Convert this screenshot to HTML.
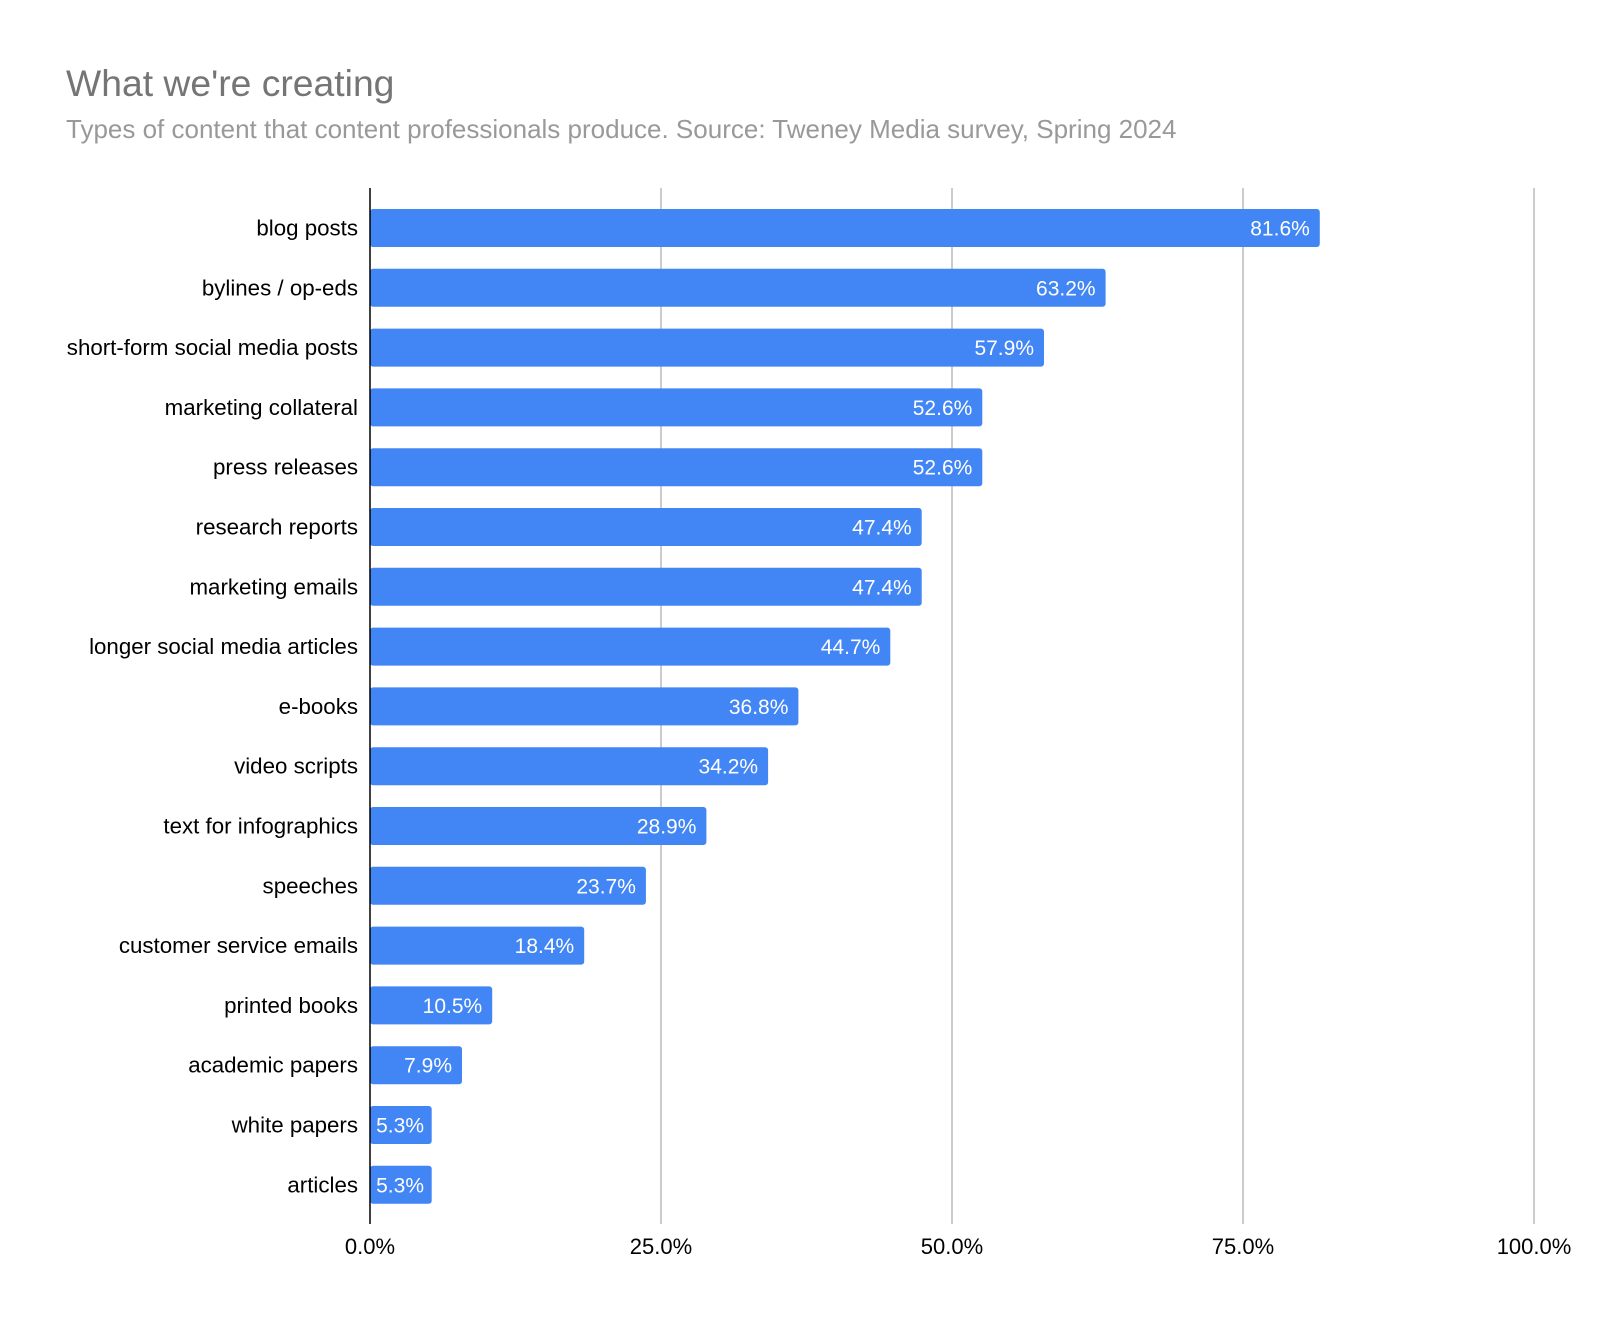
<!DOCTYPE html>
<html><head><meta charset="utf-8"><style>
body{margin:0;background:#fff;width:1600px;height:1324px;overflow:hidden}
svg text{font-family:"Liberation Sans",sans-serif}
.v{font-family:"Liberation Sans",sans-serif;fill:#fff;font-size:21px;text-anchor:end}
.c{font-size:22.3px;text-anchor:end;fill:#000}
</style></head><body>
<svg width="1600" height="1324" xmlns="http://www.w3.org/2000/svg">
<text x="66" y="96" font-size="37.3" fill="#757575">What we're creating</text>
<text x="66" y="138" font-size="26" fill="#999">Types of content that content professionals produce. Source: Tweney Media survey, Spring 2024</text>
<g stroke="#ccc" stroke-width="2">
<line x1="661" y1="188" x2="661" y2="1224"/>
<line x1="952" y1="188" x2="952" y2="1224"/>
<line x1="1243" y1="188" x2="1243" y2="1224"/>
<line x1="1534" y1="188" x2="1534" y2="1224"/>
</g>
<g font-size="22" text-anchor="middle" fill="#000">
<text x="370" y="1254">0.0%</text>
<text x="661" y="1254">25.0%</text>
<text x="952" y="1254">50.0%</text>
<text x="1243" y="1254">75.0%</text>
<text x="1534" y="1254">100.0%</text>
</g>
<g fill="#4285f4">
<rect x="370" y="209" width="949.8" height="38" rx="3"/>
<rect x="370" y="268.8" width="735.6" height="38" rx="3"/>
<rect x="370" y="328.6" width="674" height="38" rx="3"/>
<rect x="370" y="388.4" width="612.3" height="38" rx="3"/>
<rect x="370" y="448.2" width="612.3" height="38" rx="3"/>
<rect x="370" y="508" width="551.7" height="38" rx="3"/>
<rect x="370" y="567.8" width="551.7" height="38" rx="3"/>
<rect x="370" y="627.6" width="520.3" height="38" rx="3"/>
<rect x="370" y="687.4" width="428.4" height="38" rx="3"/>
<rect x="370" y="747.2" width="398.1" height="38" rx="3"/>
<rect x="370" y="807" width="336.4" height="38" rx="3"/>
<rect x="370" y="866.8" width="275.9" height="38" rx="3"/>
<rect x="370" y="926.6" width="214.2" height="38" rx="3"/>
<rect x="370" y="986.4" width="122.2" height="38" rx="3"/>
<rect x="370" y="1046.2" width="92" height="38" rx="3"/>
<rect x="370" y="1106" width="61.7" height="38" rx="3"/>
<rect x="370" y="1165.8" width="61.7" height="38" rx="3"/>
</g>
<g>
<text class="c" x="358" y="235.5">blog posts</text>
<text class="c" x="358" y="295.3">bylines / op-eds</text>
<text class="c" x="358" y="355.1">short-form social media posts</text>
<text class="c" x="358" y="414.9">marketing collateral</text>
<text class="c" x="358" y="474.7">press releases</text>
<text class="c" x="358" y="534.5">research reports</text>
<text class="c" x="358" y="594.3">marketing emails</text>
<text class="c" x="358" y="654.1">longer social media articles</text>
<text class="c" x="358" y="713.9">e-books</text>
<text class="c" x="358" y="773.7">video scripts</text>
<text class="c" x="358" y="833.5">text for infographics</text>
<text class="c" x="358" y="893.3">speeches</text>
<text class="c" x="358" y="953.1">customer service emails</text>
<text class="c" x="358" y="1012.9">printed books</text>
<text class="c" x="358" y="1072.7">academic papers</text>
<text class="c" x="358" y="1132.5">white papers</text>
<text class="c" x="358" y="1192.3">articles</text>
</g>
<g>
<text class="v" x="1309.8" y="235.5">81.6%</text>
<text class="v" x="1095.6" y="295.3">63.2%</text>
<text class="v" x="1034" y="355.1">57.9%</text>
<text class="v" x="972.3" y="414.9">52.6%</text>
<text class="v" x="972.3" y="474.7">52.6%</text>
<text class="v" x="911.7" y="534.5">47.4%</text>
<text class="v" x="911.7" y="594.3">47.4%</text>
<text class="v" x="880.3" y="654.1">44.7%</text>
<text class="v" x="788.4" y="713.9">36.8%</text>
<text class="v" x="758.1" y="773.7">34.2%</text>
<text class="v" x="696.4" y="833.5">28.9%</text>
<text class="v" x="635.9" y="893.3">23.7%</text>
<text class="v" x="574.2" y="953.1">18.4%</text>
<text class="v" x="482.2" y="1012.9">10.5%</text>
<text class="v" x="452" y="1072.7">7.9%</text>
<text class="v" x="424" y="1132.5">5.3%</text>
<text class="v" x="424" y="1192.3">5.3%</text>
</g>
<line x1="370" y1="188" x2="370" y2="1224" stroke="#000" stroke-width="1.5"/>
</svg>
</body></html>
